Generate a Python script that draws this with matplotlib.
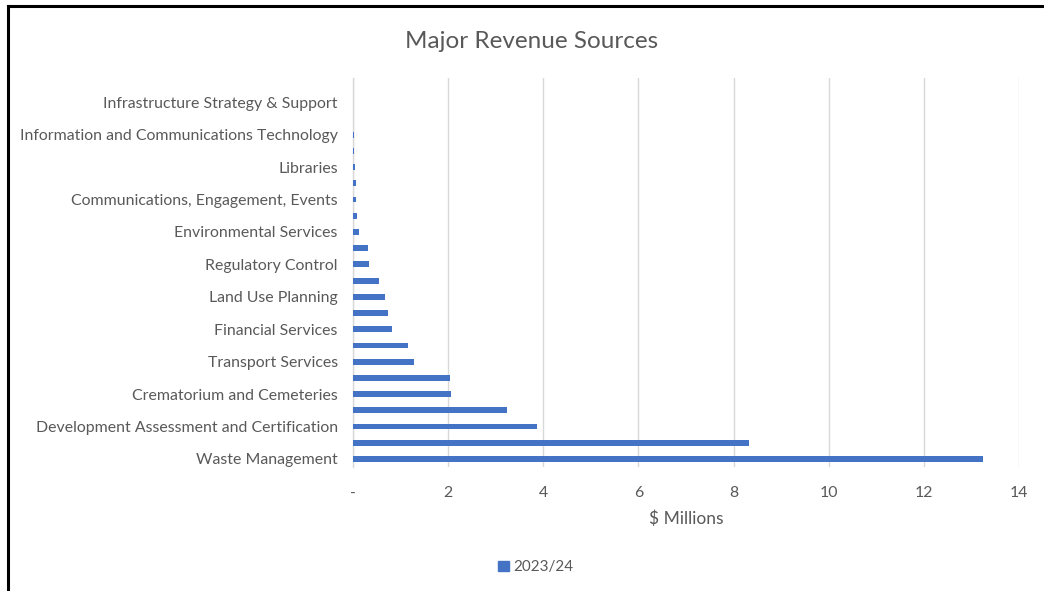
import matplotlib.pyplot as plt
import numpy as np
from matplotlib.patches import Patch
from matplotlib.lines import Line2D

plt.rcParams["font.family"] = ["Lato", "DejaVu Sans"]

# revenue by service area, $ millions (bottom to top); blank names are not labelled on the axis
services = [
    "Waste Management", "",
    "Development Assessment and Certification", "",
    "Crematorium and Cemeteries", "",
    "Transport Services", "",
    "Financial Services", "",
    "Land Use Planning", "",
    "Regulatory Control", "",
    "Environmental Services", "",
    "Communications, Engagement, Events", "",
    "Libraries", "",
    "Information and Communications Technology", "",
    "Infrastructure Strategy & Support", "",
]
revenue_2023_24 = [
    13.24, 8.32, 3.86, 3.24, 2.06, 2.04, 1.29, 1.16, 0.81, 0.73, 0.67, 0.55,
    0.34, 0.31, 0.13, 0.08, 0.06, 0.06, 0.05, 0.02, 0.02, 0.0, 0.0, 0.0,
]
x_ticks = [0, 2, 4, 6, 8, 10, 12, 14]
x_tick_labels = ["-", "2", "4", "6", "8", "10", "12", "14"]

TEXT = "#595959"
BAR = "#4472C4"
GRID = "#D9D9D9"

fig = plt.figure(figsize=(10.44, 5.91), dpi=100)
ax = fig.add_axes([0.3381, 0.2098, 0.6380, 0.6582])

y = np.arange(len(services))
ax.barh(y, revenue_2023_24, height=0.36, color=BAR, zorder=3)

ax.set_xlim(0, 14)
ax.set_ylim(-0.5, len(services) - 0.5)
ax.set_xticks(x_ticks, x_tick_labels)
ax.set_yticks(y, services)
ax.tick_params(axis="both", length=0, colors=TEXT, labelsize=11.4)
ax.tick_params(axis="x", pad=14)
ax.tick_params(axis="y", pad=11)
ax.grid(axis="x", color=GRID, linewidth=1, zorder=0)
for side in ("top", "right", "bottom"):
    ax.spines[side].set_visible(False)
ax.spines["left"].set_color(GRID)
ax.spines["left"].set_linewidth(1)

ax.set_xlabel("$ Millions", color=TEXT, fontsize=12.5, labelpad=7)
fig.text(0.509, 0.930, "Major Revenue Sources", ha="center", va="center",
         color=TEXT, fontsize=17.5)

handles = [Patch(facecolor=BAR, edgecolor=BAR)]
fig.legend(handles, ["2023/24"], loc="center", bbox_to_anchor=(0.513, 0.040),
           frameon=False, fontsize=11, labelcolor=TEXT, handlelength=0.7,
           handleheight=0.7, handletextpad=0.3)

# outer frame: top and left edges only
fig.add_artist(Line2D([0.0078, 1.0], [0.990, 0.990], transform=fig.transFigure,
                      color="black", linewidth=2.2))
fig.add_artist(Line2D([0.0078, 0.0078], [0.0, 0.990], transform=fig.transFigure,
                      color="black", linewidth=2.2))

fig.savefig("out.png", dpi=100)
